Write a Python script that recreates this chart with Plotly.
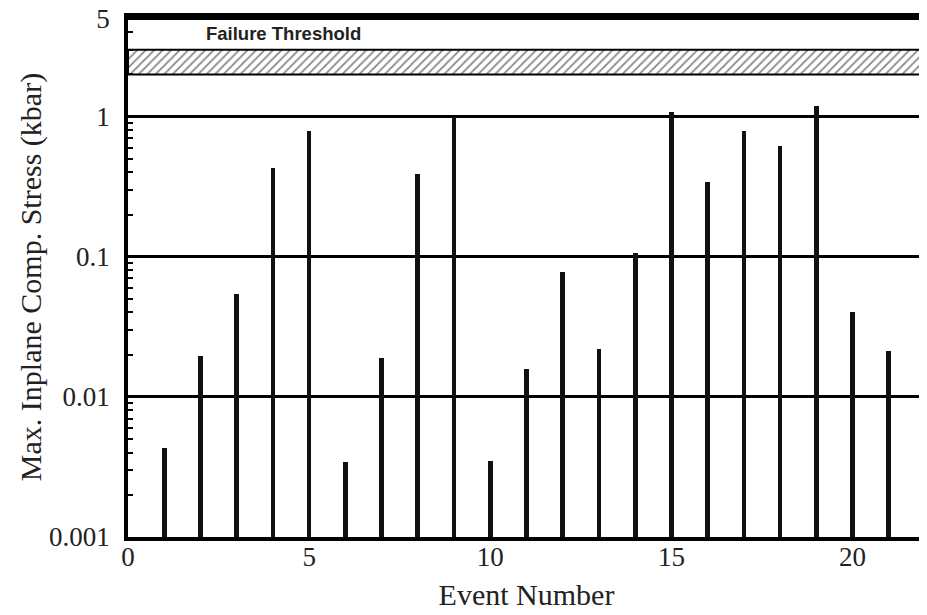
import math
import plotly.graph_objects as go

# ---- data ----
event_number = list(range(1, 22))
max_stress_kbar = [0.0043, 0.0197, 0.054, 0.43, 0.79, 0.0034, 0.019, 0.39, 1.0,
                   0.0035, 0.0157, 0.078, 0.0218, 0.107, 1.07, 0.34, 0.79, 0.62,
                   1.2, 0.040, 0.0214]
threshold_low = 2.0
threshold_high = 3.0
x_range = [0, 22]
y_tickvals = [0.001, 0.01, 0.1, 1, 5]
y_ticktext = ["0.001", "0.01", "0.1", "1", "5"]
x_tickvals = [0, 5, 10, 15, 20]
label_x, label_y = 4.3, 3.9

minor_vals = [m * 10 ** e for e in (-3, -2, -1, 0) for m in range(2, 10) if m * 10 ** e < 5]
y_range = [-3.0005, math.log10(5) + 0.012]

fig = go.Figure()

# failure threshold band (hatched)
fig.add_trace(go.Scatter(
    x=[x_range[0], x_range[1], x_range[1], x_range[0], x_range[0]],
    y=[threshold_low, threshold_low, threshold_high, threshold_high, threshold_low],
    mode="lines", fill="toself",
    fillcolor="white",
    fillpattern=dict(shape="/", fgcolor="#111", bgcolor="white", size=6, solidity=0.3),
    line=dict(color="black", width=2),
    hoverinfo="skip", showlegend=False,
))

fig.add_trace(go.Bar(
    x=event_number, y=max_stress_kbar,
    width=0.13, marker=dict(color="#111", line=dict(width=0)),
    showlegend=False,
))

# invisible helper trace so the minor-tick axis is drawn
fig.add_trace(go.Scatter(x=[None], y=[None], yaxis="y2", mode="markers",
                         showlegend=False, hoverinfo="skip"))

fig.add_annotation(
    x=label_x, y=math.log10(label_y), xref="x", yref="y", text="<b>Failure Threshold</b>",
    showarrow=False, font=dict(family="Liberation Sans", size=18.5, color="#222"),
)

# page body adds an 8px offset; compensate in size/margins
fig.update_layout(
    width=919, height=607,
    margin=dict(l=120, r=2, t=9, b=78),
    paper_bgcolor="white", plot_bgcolor="white",
    font=dict(family="Liberation Serif", color="#222"),
    bargap=0,
    xaxis=dict(
        range=x_range, tickvals=x_tickvals, ticks="", ticklen=0,
        showgrid=False, zeroline=False, automargin=False,
        showline=True, linecolor="black", linewidth=3.5, mirror=True,
        tickfont=dict(size=27), ticklabelstandoff=-7,
        title=dict(text="Event Number", font=dict(size=30), standoff=14),
    ),
    yaxis=dict(
        type="log", range=y_range, automargin=False,
        tickvals=y_tickvals, ticktext=y_ticktext, ticklabeloverflow="allow",
        ticks="inside", ticklen=8, tickwidth=2, tickcolor="black",
        showgrid=True, gridcolor="black", gridwidth=2.5,
        zeroline=False,
        showline=True, linecolor="black", linewidth=3.5, mirror="ticks",
        tickfont=dict(size=27), ticklabelstandoff=9,
        title=dict(text="Max. Inplane Comp. Stress (kbar)", font=dict(size=30), standoff=0),
    ),
    yaxis2=dict(
        type="log", range=y_range, overlaying="y", side="left", automargin=False,
        tickvals=minor_vals, ticks="inside", ticklen=5, tickwidth=2, tickcolor="black",
        showticklabels=False, showgrid=False, zeroline=False,
        showline=False, mirror="ticks",
    ),
)

fig.write_html("out.html")
